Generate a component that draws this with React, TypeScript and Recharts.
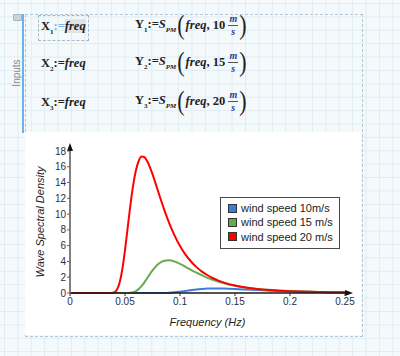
import React from "react";
import { LineChart, Line, XAxis, YAxis, Legend, Label } from "recharts";

// frequency grid (Hz), finer around the peaks
const freq = [
  0, 0.01, 0.02, 0.03, 0.035, 0.04, 0.0425, 0.045, 0.0475, 0.05, 0.0525, 0.055,
  0.0575, 0.06, 0.0625, 0.065, 0.0675, 0.07, 0.0725, 0.075, 0.0775, 0.08, 0.085,
  0.09, 0.095, 0.1, 0.105, 0.11, 0.115, 0.12, 0.125, 0.13, 0.135, 0.14, 0.15,
  0.16, 0.17, 0.18, 0.19, 0.2, 0.21, 0.22, 0.23, 0.24, 0.25,
];

// spectral density
const wind10 = [
  0, 0, 0, 0, 0, 0, 0, 0, 0, 0, 0, 0, 0, 0, 0, 0, 0, 0, 0, 0, 0, 0.002, 0.01,
  0.037, 0.09, 0.17, 0.26, 0.36, 0.45, 0.51, 0.556, 0.577, 0.58, 0.566, 0.512,
  0.44, 0.37, 0.31, 0.25, 0.206, 0.169, 0.138, 0.114, 0.094, 0.078,
];
const wind15 = [
  0, 0, 0, 0, 0, 0, 0, 0, 0, 0, 0.01, 0.03, 0.1, 0.25, 0.5, 0.86, 1.32, 1.84,
  2.36, 2.86, 3.29, 3.64, 4.06, 4.15, 3.99, 3.69, 3.32, 2.94, 2.57, 2.23, 1.92,
  1.66, 1.42, 1.23, 0.91, 0.68, 0.52, 0.4, 0.31, 0.24, 0.19, 0.155, 0.125, 0.1,
  0.083,
];
const wind20 = [
  0, 0, 0, 0, 0, 0.07, 0.38, 1.27, 2.97, 5.44, 8.36, 11.25, 13.74, 15.6, 16.76,
  17.3, 17.25, 16.75, 16.0, 15.06, 14.02, 12.93, 10.82, 8.92, 7.31, 5.96, 4.87,
  3.99, 3.28, 2.71, 2.25, 1.87, 1.57, 1.32, 0.95, 0.7, 0.52, 0.39, 0.3, 0.23,
  0.18, 0.145, 0.116, 0.094, 0.077,
];

const seriesNames = ["wind speed 10m/s", "wind speed 15 m/s", "wind speed 20 m/s"];
const xTicks = [0, 0.05, 0.1, 0.15, 0.2, 0.25];
const yTicks = [0, 2, 4, 6, 8, 10, 12, 14, 16, 18];
const windSpeeds = ["10", "15", "20"];

const data = freq.map((f, i) => ({
  f,
  s10: wind10[i],
  s15: wind15[i],
  s20: wind20[i],
}));

const SANS = "'Liberation Sans', Arial, sans-serif";
const SERIF = "'Liberation Serif', 'Times New Roman', serif";

const LegendBox = ({ payload }: any) => (
  <div
    style={{
      border: "1.5px solid #4a4a4a",
      background: "#fff",
      padding: "3px 6px 4px 7px",
      fontFamily: SANS,
      fontSize: 11,
      color: "#222",
      width: 105,
    }}
  >
    {(payload || []).map((p: any) => (
      <div key={p.value} style={{ display: "flex", alignItems: "center", height: 14.3 }}>
        <span
          style={{
            display: "inline-block",
            width: 7,
            height: 7,
            background: p.color,
            border: "1px solid #333",
            marginRight: 4,
          }}
        />
        <span style={{ whiteSpace: "nowrap" }}>{p.value}</span>
      </div>
    ))}
  </div>
);

// one worksheet line: X_n := freq    Y_n := S_PM(freq, v m/s)
const FormulaRow = ({ n, top, speed, active }: any) => (
  <>
    <div
      style={{
        position: "absolute",
        left: 41,
        top,
        fontFamily: SERIF,
        fontWeight: "bold",
        fontSize: 12.5,
        color: "#222",
        whiteSpace: "nowrap",
      }}
    >
      X<sub style={{ fontSize: 7 }}>{n}</sub>
      <span style={{ color: active ? "#7ab6e6" : "#222" }}>:=</span>
      <i style={{ background: active ? "#e2e2e2" : "transparent" }}>freq</i>
    </div>
    <div
      style={{
        position: "absolute",
        left: 135,
        top: top - 9,
        height: 30,
        display: "flex",
        alignItems: "center",
        fontFamily: SERIF,
        fontWeight: "bold",
        fontSize: 12.5,
        color: "#222",
        whiteSpace: "nowrap",
      }}
    >
      <span>
        Y<sub style={{ fontSize: 7 }}>{n}</sub>:=<i>S</i>
        <sub style={{ fontSize: 7, fontStyle: "italic" }}>PM</sub>
      </span>
      <span style={{ fontSize: 22, fontWeight: "normal", transform: "scaleY(1.25)", margin: "0 1px" }}>(</span>
      <i>freq</i>
      <span>,&nbsp;{speed}&nbsp;</span>
      <span
        style={{
          display: "inline-flex",
          flexDirection: "column",
          alignItems: "center",
          fontStyle: "italic",
          color: "#2b3b9c",
          fontSize: 10,
          lineHeight: "10px",
        }}
      >
        <span>m</span>
        <span style={{ width: 10, borderTop: "1px solid #555", margin: "1px 0" }} />
        <span>s</span>
      </span>
      <span style={{ fontSize: 22, fontWeight: "normal", transform: "scaleY(1.25)", marginLeft: 1 }}>)</span>
    </div>
  </>
);

const App = () => {
  return (
    <div
      style={{
        position: "absolute",
        left: 0,
        top: 0,
        width: 400,
        height: 356,
        overflow: "hidden",
        backgroundColor: "#f4f9fb",
        backgroundImage:
          "linear-gradient(to right, #e0ecf3 1px, transparent 1px), linear-gradient(to bottom, #e0ecf3 1px, transparent 1px)",
        backgroundSize: "13.4px 13.4px",
        backgroundPosition: "4px 3px",
      }}
    >
      <svg width={0} height={0} style={{ position: "absolute" }}>
        <defs>
          <marker
            id="arrowHead"
            viewBox="0 0 8 6"
            refX={0}
            refY={3}
            markerWidth={8}
            markerHeight={6}
            markerUnits="userSpaceOnUse"
            orient="auto-start-reverse"
          >
            <path d="M0,0 L8,3 L0,6 z" fill="#111" />
          </marker>
        </defs>
      </svg>

      {/* collapsible "Inputs" region */}
      <div
        style={{
          position: "absolute",
          left: 13,
          top: 14,
          width: 7,
          height: 5,
          background: "#c9d3da",
          borderRadius: 1,
          border: "1px solid #aab6bf",
        }}
      />
      <div style={{ position: "absolute", left: 22, top: 14, width: 2, height: 119, background: "#6db0ea" }} />
      <div
        style={{
          position: "absolute",
          left: 16,
          top: 73,
          transform: "translate(-50%, -50%) rotate(-90deg)",
          fontFamily: SANS,
          fontSize: 10,
          color: "#8a8a8a",
        }}
      >
        Inputs
      </div>
      <div
        style={{
          position: "absolute",
          left: 25,
          top: 14,
          width: 336,
          height: 321,
          border: "1px dashed #b3c8d6",
        }}
      />
      <div
        style={{
          position: "absolute",
          left: 38,
          top: 15,
          width: 49,
          height: 24,
          border: "1px dashed #a9b9c6",
        }}
      />

      {windSpeeds.map((s, i) => (
        <FormulaRow key={s} n={i + 1} top={[19, 56, 95][i]} speed={s} active={i === 0} />
      ))}

      <div style={{ position: "absolute", left: 25, top: 132, width: 336, height: 203, background: "#fff" }}>
        <LineChart
          width={336}
          height={203}
          data={data}
          margin={{ top: 19, right: 16, left: 0, bottom: 0 }}
        >
          <XAxis
            dataKey="f"
            type="number"
            domain={[0, 0.25]}
            ticks={xTicks}
            interval={0}
            height={42}
            tickSize={3}
            tickMargin={2}
            axisLine={{ stroke: "#1a1a1a", strokeWidth: 1.5, markerEnd: "url(#arrowHead)" }}
            tickLine={{ stroke: "#333" }}
            tick={{ fontSize: 10, fill: "#2e2e3e", fontFamily: SANS }}
          >
            <Label
              content={({ viewBox }: any) => (
                <text
                  x={viewBox.x + viewBox.width / 2}
                  y={viewBox.y + 29}
                  textAnchor="middle"
                  dominantBaseline="central"
                  fontFamily={SANS}
                  fontSize={11}
                  fontStyle="italic"
                  fill="#222"
                >
                  Frequency (Hz)
                </text>
              )}
            />
          </XAxis>
          <XAxis
            xAxisId="top"
            dataKey="f"
            type="number"
            domain={[0, 0.25]}
            orientation="top"
            height={0}
            tick={false}
            tickLine={false}
            axisLine={{ stroke: "#b5b5b5", strokeWidth: 1.5 }}
          >
            <Label
              content={({ viewBox }: any) => (
                <text
                  x={viewBox.x + viewBox.width - 12}
                  y={viewBox.y + viewBox.height + 24}
                  textAnchor="end"
                  fontFamily={SANS}
                  fontSize={16}
                  fill="#111"
                >
                  Parametric Spectra
                </text>
              )}
            />
          </XAxis>
          <YAxis
            type="number"
            domain={[0, 18]}
            ticks={yTicks}
            interval={0}
            width={45}
            tickSize={3}
            tickMargin={1}
            axisLine={{ stroke: "#808080", strokeWidth: 2, markerStart: "url(#arrowHead)" }}
            tickLine={{ stroke: "#666" }}
            tick={{ fontSize: 10, fill: "#2e2e3e", fontFamily: SANS }}
          >
            <Label
              content={({ viewBox }: any) => (
                <text
                  transform={`translate(${viewBox.x + 15},${viewBox.y + viewBox.height / 2}) rotate(-90)`}
                  textAnchor="middle"
                  dominantBaseline="central"
                  fontFamily={SANS}
                  fontSize={11}
                  fontStyle="italic"
                  fill="#222"
                >
                  Wave Spectral Density
                </text>
              )}
            />
          </YAxis>
          <YAxis
            yAxisId="right"
            orientation="right"
            domain={[0, 18]}
            width={0}
            tick={false}
            tickLine={false}
            axisLine={{ stroke: "#b5b5b5", strokeWidth: 1.5 }}
          />
          <Legend
            layout="vertical"
            align="center"
            verticalAlign="middle"
            wrapperStyle={{ left: 195, top: 65, width: "auto" }}
            content={LegendBox}
          />
          <Line
            dataKey="s10"
            name={seriesNames[0]}
            type="monotone"
            stroke="#3b7ddd"
            strokeWidth={2}
            dot={false}
            isAnimationActive={false}
          />
          <Line
            dataKey="s15"
            name={seriesNames[1]}
            type="monotone"
            stroke="#6aa84f"
            strokeWidth={2}
            dot={false}
            isAnimationActive={false}
          />
          <Line
            dataKey="s20"
            name={seriesNames[2]}
            type="monotone"
            stroke="#ff0000"
            strokeWidth={2}
            dot={false}
            isAnimationActive={false}
          />
        </LineChart>
      </div>
    </div>
  );
};

export default App;
